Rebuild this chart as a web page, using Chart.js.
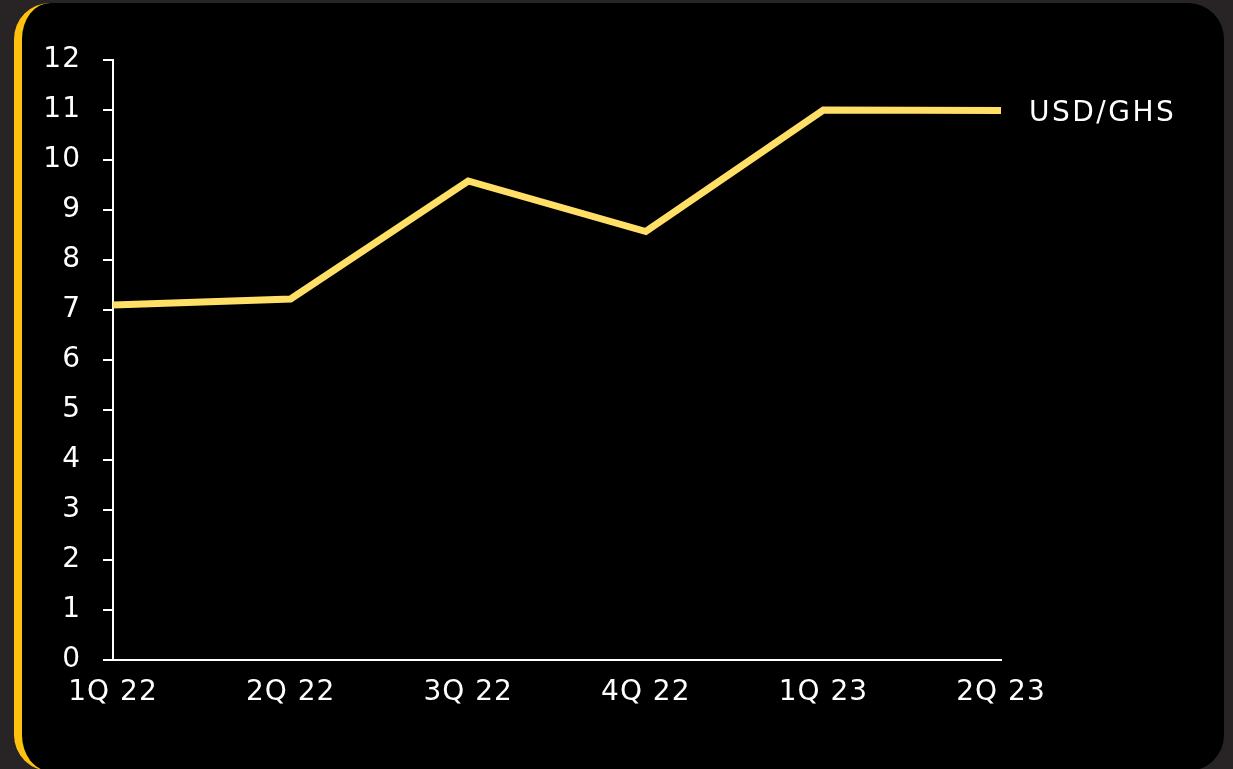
<!DOCTYPE html>
<html>
<head>
<meta charset="utf-8">
<script src="https://cdn.jsdelivr.net/npm/chart.js@4/dist/chart.umd.min.js"></script>
<style>
  html, body { margin: 0; padding: 0; background: #282425; width: 1233px; height: 769px; overflow: hidden; }
  .card {
    position: absolute; left: 14px; top: 3px; width: 1202px; height: 768px;
    background: #000; border-left: 8px solid #ffc20e; border-radius: 36px;
  }
  #wrap { position: absolute; left: 0; top: 0; width: 1233px; height: 769px; }
</style>
</head>
<body>
<div class="card"></div>
<div id="wrap"><canvas id="chart" width="1233" height="769"></canvas></div>
<script>
// Quarterly USD/GHS exchange rate
const quarters = ['1Q 22', '2Q 22', '3Q 22', '4Q 22', '1Q 23', '2Q 23'];
const usdGhs = [7.1, 7.22, 9.58, 8.57, 11.0, 10.99];
const seriesName = 'USD/GHS';

const FONT = { family: '"DejaVu Sans", sans-serif', size: 28 };
const SPACING = '1px';

// Slightly wider tracking for the axis labels
const tracking = {
  id: 'tracking',
  beforeLayout(chart) { chart.ctx.letterSpacing = SPACING; },
  beforeDraw(chart) { chart.ctx.letterSpacing = SPACING; }
};

// Writes the series name just past the last point of the line
const endLabel = {
  id: 'endLabel',
  afterDatasetsDraw(chart) {
    const meta = chart.getDatasetMeta(0);
    const last = meta.data[meta.data.length - 1];
    const ctx = chart.ctx;
    ctx.save();
    ctx.letterSpacing = '2.5px';
    ctx.font = `${FONT.size}px ${FONT.family}`;
    ctx.fillStyle = '#ffffff';
    ctx.textAlign = 'left';
    ctx.textBaseline = 'middle';
    ctx.fillText(seriesName, last.x + 28, last.y + 3);
    ctx.restore();
  }
};

new Chart(document.getElementById('chart'), {
  type: 'line',
  data: {
    labels: quarters,
    datasets: [{
      label: seriesName,
      data: usdGhs,
      borderColor: '#ffdf66',
      borderWidth: 7,
      tension: 0,
      pointRadius: 0,
      borderCapStyle: 'butt',
      borderJoinStyle: 'miter'
    }]
  },
  options: {
    responsive: false,
    animation: false,
    layout: { padding: { left: 0, top: 60, right: 232, bottom: 59 } },
    plugins: { legend: { display: false }, tooltip: { enabled: false } },
    scales: {
      x: {
        offset: false,
        grid: { display: false, drawTicks: false },
        border: { display: true, color: '#ffffff', width: 2 },
        ticks: { color: '#ffffff', font: FONT, padding: 16, maxRotation: 0, autoSkip: false },
        afterFit(scale) { scale.height = 50; }
      },
      y: {
        min: 0, max: 12,
        grid: { drawOnChartArea: false, drawTicks: true, tickLength: 10, color: '#ffffff', lineWidth: 2 },
        border: { display: true, color: '#ffffff', width: 2 },
        ticks: { stepSize: 1, color: '#ffffff', font: FONT, padding: 22 },
        afterFit(scale) { scale.width = 113; }
      }
    }
  },
  plugins: [tracking, endLabel]
});
</script>
</body>
</html>
